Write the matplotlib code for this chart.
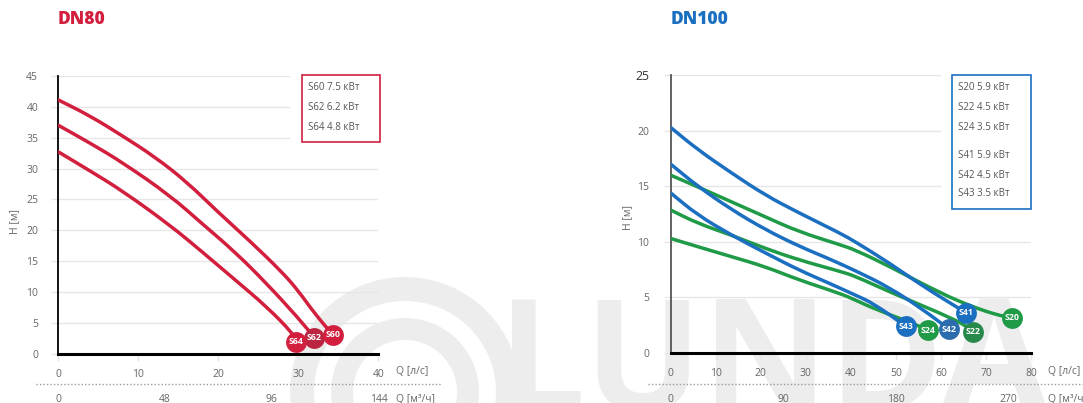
import matplotlib
matplotlib.use("Agg")
import matplotlib.pyplot as plt
from matplotlib.patches import Rectangle, Wedge, PathPatch
from matplotlib.path import Path
from matplotlib.transforms import blended_transform_factory

plt.rcParams['font.family'] = ['Open Sans', 'DejaVu Sans']

# ---------------- data ----------------
# DN80 (Q in l/s, H in m)
dn80_names = ["S60", "S62", "S64"]
dn80_power = ["7.5 кВт", "6.2 кВт", "4.8 кВт"]
q_s60 = [0, 4, 8, 12, 16, 20, 24, 28, 30, 32, 34.3]
h_s60 = [41.1, 38.5, 35.3, 31.95, 27.9, 22.9, 18.2, 13.2, 10.2, 6.6, 3.1]
q_s62 = [0, 4, 8, 14, 18, 22, 26, 30, 32.0]
h_s62 = [37.0, 34.1, 31.0, 25.6, 21.05, 16.6, 11.45, 5.8, 2.65]
q_s64 = [0, 4, 8, 14, 18, 22, 26, 29.3, 29.7]
h_s64 = [32.7, 29.6, 26.4, 20.8, 16.5, 12.1, 7.7, 3.35, 2.0]

# DN100
dn100_names = ["S20", "S22", "S24", "S41", "S42", "S43"]
dn100_power = ["5.9 кВт", "4.5 кВт", "3.5 кВт", "5.9 кВт", "4.5 кВт", "3.5 кВт"]
q_s20 = [0, 6, 13.5, 21, 28.5, 37.5, 41, 48.5, 60, 67, 72.5, 75.8]
h_s20 = [16.0, 14.95, 13.6, 12.25, 10.9, 9.75, 9.26, 7.8, 5.35, 4.15, 3.4, 3.16]
q_s22 = [0, 6, 13.5, 21, 28.5, 37.5, 41, 48.5, 60, 65.4, 67.1]
h_s22 = [12.86, 11.66, 10.6, 9.4, 8.36, 7.35, 6.9, 5.5, 3.55, 2.5, 1.9]
q_s24 = [0, 6, 13.5, 21, 28.5, 37.5, 41, 45, 54.7, 57.1]
h_s24 = [10.3, 9.56, 8.66, 7.76, 6.56, 5.36, 4.76, 4.0, 2.5, 2.05]
q_s41 = [0, 6, 13.5, 21, 28.5, 37.5, 41, 48.5, 56, 64, 65.6]
h_s41 = [20.3, 18.3, 16.2, 14.2, 12.6, 10.8, 10.0, 8.1, 6.0, 4.0, 3.6]
q_s42 = [0, 6, 13.5, 21, 28.5, 35, 41, 48.5, 56, 61.9]
h_s42 = [17.0, 15.0, 12.9, 11.1, 9.6, 8.5, 7.4, 5.9, 3.9, 2.1]
q_s43 = [0, 6, 13.5, 21, 28.5, 35, 41, 45, 52.2]
h_s43 = [14.4, 12.4, 10.6, 9.0, 7.45, 6.3, 5.2, 4.45, 2.4]

dn80_xticks = [0, 10, 20, 30, 40]
dn80_yticks = [0, 5, 10, 15, 20, 25, 30, 35, 40, 45]
dn80_m3h = [0, 48, 96, 144]
dn100_xticks = [0, 10, 20, 30, 40, 50, 60, 70, 80]
dn100_yticks = [0, 5, 10, 15, 20, 25]
dn100_m3h = [0, 90, 180, 270]

# ---------------- styling ----------------
W, H = 1083, 403
RED = '#d21f3e'
RED_D = '#bb2540'
BLUE = '#1b6fc1'
BLUE_D = '#2b6cad'
GREEN = '#1f9a47'
GREEN_D = '#27894a'
GRID = '#e6e6e6'
TXT = '#666666'
WM = '#ededed'

fig = plt.figure(figsize=(W / 100, H / 100), dpi=100)

def fx(px):
    return px / W

def fy(py):
    return 1 - py / H

# background watermark
bg = fig.add_axes([0, 0, 1, 1], zorder=0)
bg.set_xlim(0, W)
bg.set_ylim(H, 0)
bg.axis('off')
cx, cy = 405, 392
bg.add_patch(Wedge((cx, cy), 115, 0, 360, width=24, color=WM, lw=0))
bg.add_patch(Wedge((cx, cy), 74, 0, 360, width=22, color=WM, lw=0))
bg.text(498, 292, 'LUNDA', fontsize=112, fontweight='bold', color=WM,
        ha='left', va='top')

# overlay for legends
ov = fig.add_axes([0, 0, 1, 1], zorder=5)
ov.set_xlim(0, W)
ov.set_ylim(H, 0)
ov.axis('off')
ov.patch.set_alpha(0)


def setup_axes(px0, px1, py0, py1, xmax, ymax, xticks, yticks, grid_cut, yspine_color, ypad):
    ax = fig.add_axes([fx(px0), fy(py0), (px1 - px0) / W, (py0 - py1) / H], zorder=2)
    ax.patch.set_alpha(0)
    ax.set_xlim(0, xmax)
    ax.set_ylim(0, ymax)
    for s in ['top', 'right']:
        ax.spines[s].set_visible(False)
    ax.spines['left'].set_color(yspine_color)
    ax.spines['left'].set_linewidth(1.3)
    ax.spines['bottom'].set_color('black')
    ax.spines['bottom'].set_linewidth(2.2)
    ax.spines['bottom'].set_zorder(6)
    ax.set_xticks(xticks, labels=[str(v) for v in xticks])
    ax.set_yticks(yticks, labels=[str(v) for v in yticks])
    ax.tick_params(axis='x', length=5, width=1, color=GRID, labelsize=7.5,
                   labelcolor=TXT, pad=6)
    ax.tick_params(axis='y', length=5, width=1, color=GRID, labelsize=7.5,
                   labelcolor=TXT, pad=ypad)
    for v in yticks[1:]:
        xm = grid_cut[1] if v >= grid_cut[0] else 1.0
        ax.axhline(v, xmin=0, xmax=xm, color=GRID, lw=1, zorder=0)
    return ax


def smooth_curve(ax, q, h, color):
    # spline-like rendering: quadratic Bezier through segment midpoints
    pts = list(zip(q, h))
    verts = [pts[0]]
    codes = [Path.MOVETO]
    mids = [((pts[i][0] + pts[i + 1][0]) / 2, (pts[i][1] + pts[i + 1][1]) / 2)
            for i in range(len(pts) - 1)]
    verts.append(mids[0])
    codes.append(Path.LINETO)
    for i in range(1, len(pts) - 1):
        verts += [pts[i], mids[i]]
        codes += [Path.CURVE3, Path.CURVE3]
    verts.append(pts[-1])
    codes.append(Path.LINETO)
    ax.add_patch(PathPatch(Path(verts, codes), facecolor='none', edgecolor=color,
                           lw=2.5, capstyle='round', joinstyle='round', zorder=3))


def marker(ax, q, h, name, color):
    ax.scatter([q], [h], s=225, color=color, zorder=7, linewidths=0, clip_on=False)
    ax.text(q, h, name, color='white', fontsize=6.3, fontweight='bold',
            ha='center', va='center', zorder=8, clip_on=False)


# ---------------- DN80 ----------------
ax1 = setup_axes(58.3, 378.5, 354.1, 75.8, 40, 45, dn80_xticks, dn80_yticks,
                 (35, (289 - 58.3) / (378.5 - 58.3)), 'black', 9.5)
for q, h in [(q_s60, h_s60), (q_s62, h_s62), (q_s64, h_s64)]:
    smooth_curve(ax1, q, h, RED)
marker(ax1, q_s62[-1], h_s62[-1], 'S62', RED_D)
marker(ax1, q_s64[-1], h_s64[-1], 'S64', RED)
marker(ax1, q_s60[-1], h_s60[-1], 'S60', RED)

tr1 = blended_transform_factory(ax1.transData, fig.transFigure)
for m in dn80_m3h:
    ax1.text(m / 3.6, fy(399), str(m), transform=tr1, ha='center', va='center',
             fontsize=7.5, color=TXT)

fig.text(fx(58), fy(19.5), 'DN80', fontsize=12.5, fontweight=800, color=RED,
         ha='left', va='center')
fig.text(fx(15), fy(222), 'H [м]', rotation=90, fontsize=7.5, color=TXT,
         ha='center', va='center')
fig.text(fx(396), fy(372), 'Q [л/с]', fontsize=7.5, color=TXT, ha='left', va='center')
fig.text(fx(396), fy(399), 'Q [м³/ч]', fontsize=7.5, color=TXT, ha='left', va='center')
ov.plot([36, 441], [384, 384], color='#9a9a9a', lw=1, ls=(0, (1, 1.5)))

ov.add_patch(Rectangle((302, 75), 78, 67, facecolor='white', edgecolor=RED, lw=1.2))
for i, (n, p) in enumerate(zip(dn80_names, dn80_power)):
    ov.text(308, 88 + i * 19.5, f"{n} {p}", fontsize=7, color='#555555',
            ha='left', va='center')

# ---------------- DN100 ----------------
ax2 = setup_axes(670.7, 1031, 352.8, 75.3, 80, 25, dn100_xticks, dn100_yticks,
                 (15, (940 - 670.7) / (1031 - 670.7)), '#555555', 10.5)
for lbl in ax2.get_yticklabels():
    if lbl.get_text() == '25':
        lbl.set_fontsize(8.8)
        lbl.set_color('#333333')
for q, h in [(q_s20, h_s20), (q_s22, h_s22), (q_s24, h_s24)]:
    smooth_curve(ax2, q, h, GREEN)
for q, h in [(q_s41, h_s41), (q_s42, h_s42), (q_s43, h_s43)]:
    smooth_curve(ax2, q, h, BLUE)
marker(ax2, q_s43[-1], h_s43[-1], 'S43', BLUE)
marker(ax2, q_s24[-1], h_s24[-1], 'S24', GREEN)
marker(ax2, q_s22[-1], h_s22[-1], 'S22', GREEN_D)
marker(ax2, q_s42[-1], h_s42[-1], 'S42', BLUE_D)
marker(ax2, q_s41[-1], h_s41[-1], 'S41', BLUE)
marker(ax2, q_s20[-1], h_s20[-1], 'S20', GREEN)

tr2 = blended_transform_factory(ax2.transData, fig.transFigure)
for m in dn100_m3h:
    ax2.text(m / 3.6, fy(399), str(m), transform=tr2, ha='center', va='center',
             fontsize=7.5, color=TXT)

fig.text(fx(671), fy(19.5), 'DN100', fontsize=12.5, fontweight=800, color=BLUE,
         ha='left', va='center')
fig.text(fx(628), fy(218), 'H [м]', rotation=90, fontsize=7.5, color=TXT,
         ha='center', va='center')
fig.text(fx(1048), fy(372), 'Q [л/с]', fontsize=7.5, color=TXT, ha='left', va='center')
fig.text(fx(1048), fy(399), 'Q [м³/ч]', fontsize=7.5, color=TXT, ha='left', va='center')
ov.plot([648, 1083], [384, 384], color='#9a9a9a', lw=1, ls=(0, (1, 1.5)))

ov.add_patch(Rectangle((952, 75), 79, 134, facecolor='white', edgecolor=BLUE, lw=1.2))
leg_y = [88, 107, 127, 155, 175, 194]
for y, n, p in zip(leg_y, dn100_names, dn100_power):
    ov.text(958, y, f"{n} {p}", fontsize=7, color='#555555', ha='left', va='center')

fig.savefig('out.png', dpi=100, facecolor='white')
